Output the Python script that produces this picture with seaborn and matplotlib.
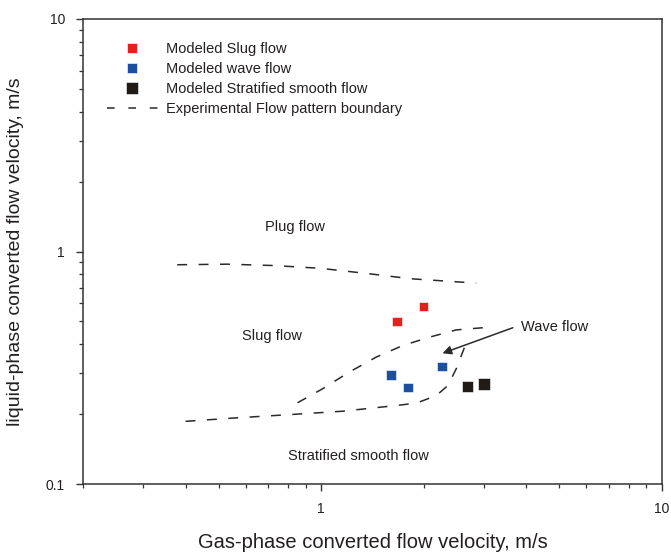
import matplotlib
matplotlib.use("Agg")
import matplotlib.pyplot as plt
from matplotlib.lines import Line2D
from matplotlib.ticker import LogLocator, FixedLocator, FixedFormatter, NullFormatter
import numpy as np
import pandas as pd
import seaborn as sns

# Modeled flow-pattern points (gas velocity, liquid velocity), m/s
slug_x = [1.67, 2.00]
slug_y = [0.50, 0.58]
wave_x = [1.60, 1.80, 2.26]
wave_y = [0.295, 0.26, 0.32]
strat_x = [2.69, 3.00]
strat_y = [0.263, 0.27]

# Experimental flow-pattern boundaries
plug_slug_x = [0.378, 0.53, 0.73, 1.0, 1.375, 1.84, 2.39, 2.85]
plug_slug_y = [0.877, 0.882, 0.87, 0.846, 0.803, 0.763, 0.744, 0.731]
slug_wave_x = [0.852, 1.009, 1.209, 1.448, 1.734, 2.078, 2.49, 2.98]
slug_wave_y = [0.2235, 0.2567, 0.303, 0.351, 0.394, 0.428, 0.460, 0.470]
strat_bound_x = [0.40, 0.548, 0.843, 1.155, 1.585, 1.90, 2.175, 2.353, 2.49, 2.635]
strat_bound_y = [0.186, 0.192, 0.1996, 0.2056, 0.216, 0.2226, 0.240, 0.265, 0.313, 0.388]

x_ticks = [1, 10]
x_tick_labels = ["1", "10"]
y_ticks = [0.1, 1, 10]
y_tick_labels = ["0.1", "1", "10"]

sns.set_style("ticks")
plt.rcParams["font.family"] = ["Liberation Sans", "DejaVu Sans"]

INK = "#231f20"
RED = "#e3211c"
BLUE = "#1d4fa0"
BLACK = "#221a17"

fig = plt.figure(figsize=(6.71, 5.52), dpi=100)
ax = fig.add_axes([83 / 671, 68 / 552, 579 / 671, 465 / 552])
ax.set_xscale("log")
ax.set_yscale("log")

points = pd.DataFrame({
    "x": slug_x + wave_x + strat_x,
    "y": slug_y + wave_y + strat_y,
    "kind": ["Modeled Slug flow"] * len(slug_x)
            + ["Modeled wave flow"] * len(wave_x)
            + ["Modeled Stratified smooth flow"] * len(strat_x),
})
palette = {"Modeled Slug flow": RED, "Modeled wave flow": BLUE,
           "Modeled Stratified smooth flow": BLACK}
sizes = {"Modeled Slug flow": 44, "Modeled wave flow": 48,
         "Modeled Stratified smooth flow": 70}
sns.scatterplot(data=points, x="x", y="y", hue="kind", palette=palette,
                size="kind", sizes=sizes, marker="s", linewidth=0.4,
                edgecolor="white", legend=False, ax=ax, zorder=3)

dash = (6.5, 7.5)
for bx, by in [(plug_slug_x, plug_slug_y), (slug_wave_x, slug_wave_y),
               (strat_bound_x, strat_bound_y)]:
    sns.lineplot(x=bx, y=by, sort=False, estimator=None, color="#2a2a2a",
                 linewidth=1.1, ax=ax).lines[-1].set_dashes(dash)

# Arrow pointing at the wave-flow region
ax.annotate("", xy=(2.27, 0.365), xytext=(3.65, 0.47),
            arrowprops=dict(arrowstyle="-|>", color="#2a2a2a", lw=1.1,
                            mutation_scale=13, shrinkA=0, shrinkB=0))

txt = dict(fontsize=10.5, color=INK)
ax.text(3.85, 0.472, "Wave flow", ha="left", va="center", **txt)
ax.text(0.84, 1.275, "Plug flow", ha="center", va="center", **txt)
ax.text(0.719, 0.433, "Slug flow", ha="center", va="center", **txt)
ax.text(1.286, 0.132, "Stratified smooth flow", ha="center", va="center", **txt)

ax.set_xlim(0.2, 10)
ax.set_ylim(0.1, 10)

ax.xaxis.set_major_locator(FixedLocator(x_ticks))
ax.xaxis.set_major_formatter(FixedFormatter(x_tick_labels))
ax.yaxis.set_major_locator(FixedLocator(y_ticks))
ax.yaxis.set_major_formatter(FixedFormatter(y_tick_labels))
ax.xaxis.set_minor_locator(LogLocator(base=10, subs=np.arange(2, 10), numticks=20))
ax.yaxis.set_minor_locator(LogLocator(base=10, subs=np.arange(2, 10), numticks=20))
ax.xaxis.set_minor_formatter(NullFormatter())
ax.yaxis.set_minor_formatter(NullFormatter())
ax.tick_params(which="major", direction="out", length=5, width=1.0,
               color="#333333", labelsize=10, labelcolor=INK, pad=8)
ax.tick_params(which="minor", direction="out", length=3, width=0.9, color="#333333")

for side in ["left", "right", "top", "bottom"]:
    ax.spines[side].set_visible(True)
    ax.spines[side].set_color("#333333")
    ax.spines[side].set_linewidth(1.1)

ax.set_xlabel("Gas-phase converted flow velocity, m/s", fontsize=14.5,
              color=INK, labelpad=12)
ax.set_ylabel("liquid-phase converted flow velocity, m/s", fontsize=14,
              color=INK, labelpad=16)

handles = [
    Line2D([], [], ls="none", marker="s", color=RED, markersize=6.5,
           markeredgecolor="white", markeredgewidth=0.4),
    Line2D([], [], ls="none", marker="s", color=BLUE, markersize=6.5,
           markeredgecolor="white", markeredgewidth=0.4),
    Line2D([], [], ls="none", marker="s", color=BLACK, markersize=8,
           markeredgecolor="white", markeredgewidth=0.4),
    Line2D([], [], color="#2a2a2a", lw=1.1, dashes=(5, 9)),
]
labels = ["Modeled Slug flow", "Modeled wave flow",
          "Modeled Stratified smooth flow", "Experimental Flow pattern boundary"]
leg = ax.legend(handles, labels, loc="upper left", bbox_to_anchor=(0.018, 0.979),
                frameon=False, fontsize=10.5, handlelength=3.5,
                handletextpad=0.6, labelspacing=0.42)
for t in leg.get_texts():
    t.set_color(INK)

fig.savefig("out.png", dpi=100)
